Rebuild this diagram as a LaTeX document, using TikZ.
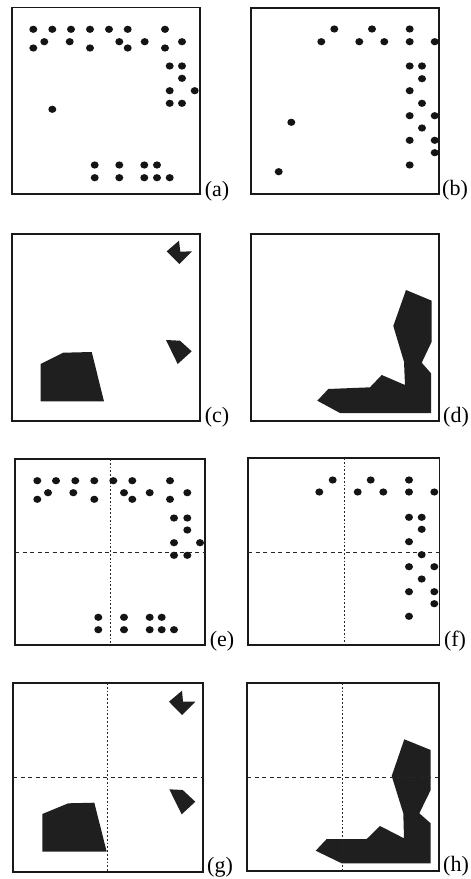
\documentclass[tikz,border=0pt]{standalone}
\usepackage{fontspec}
\setmainfont{Liberation Serif}
\begin{document}
\begin{tikzpicture}[x=1pt,y=-1pt,
  panel/.style={draw=black!90,line width=1.3pt},
  blob/.style={fill=black!88},
  hcut/.style={draw=black!85,line width=0.9pt,dash pattern=on 4pt off 3.5pt},
  vcut/.style={draw=black!85,line width=0.9pt,dash pattern=on 1.8pt off 2pt},
  tag/.style={font=\fontsize{22}{25}\selectfont,inner sep=0pt}]
\useasboundingbox (0,0) rectangle (471,879);
\fill[white] (0,0) rectangle (471,879);

% a spot of the point set
\newcommand\spot[2]{\fill[black!92] (#1,#2) ellipse [x radius=4pt,y radius=3.6pt];}

% ---------- (a) point set ----------
\draw[panel] (12,7.5) rectangle (200,194);
\foreach \p/\q in {33.3/29.3,52.3/29.3,71/29.3,90/29.3,109/29.3,127.7/29.3,165/29.3,
  44.3/41.7,69.7/41.7,119.3/41.7,144.7/41.7,182/41.7,
  33.3/48,90/48,127.7/48,165/48,
  169.7/66,182/66,182/78.3,169.7/90.7,194.7/90.7,169.7/103.3,182/103.3,
  52.3/109.3,
  94.7/165,119.3/165,144.3/165,157/165,
  94.7/177.7,119.3/177.7,144.3/177.7,157/177.7,169.7/177.7}{\spot{\p}{\q}}
\node[tag] (la) at (217,191) {(a)};

% ---------- (b) point set ----------
\draw[panel] (251,8) rectangle (439,194);
\foreach \p/\q in {334.3/29,372/29,409.7/29,
  321.3/41.7,359.3/41.7,384.3/41.7,409.7/41.7,434.7/41.7,
  409.7/66,422/66,422/78.7,409.7/90.7,422/103.3,409.7/115.7,434.7/115.7,
  291.3/122.3,422/128,409.7/140.3,434.7/140.3,434.7/152.7,409.7/165,278.7/171.7}{\spot{\p}{\q}}
\node[tag] (lb) at (455,190) {(b)};

% ---------- (c) regions ----------
\draw[panel] (12,234) rectangle (200,421);
\fill[blob] (40.7,364) -- (63.3,352.7) -- (91.7,352) -- (104,401.3) -- (40.7,401.3) -- cycle;
\fill[blob] (166.7,251.3) -- (179,240.7) -- (180.3,251.7) -- (192,251.3) -- (179.3,264) -- cycle;
\fill[blob] (166,340) -- (180,340.7) -- (191.7,351.3) -- (177.7,364) -- cycle;
\node[tag] (lc) at (217,417) {(c)};

% ---------- (d) region ----------
\draw[panel] (251,234) rectangle (439,421);
\fill[blob] (406,290) -- (431.7,300.7) -- (431.7,341.7) -- (421.7,362.7) -- (431,373.3)
  -- (431,413) -- (340,413) -- (317.3,400.7) -- (328.3,389) -- (370,387.3)
  -- (381.7,375) -- (405,385) -- (404,361.7) -- (393.3,326) -- cycle;
\node[tag] (ld) at (456,417) {(d)};

% ---------- (e) point set, split in quarters ----------
\draw[panel] (15,459) rectangle (205,645);
\draw[vcut] (110,459) -- (110,645);
\draw[hcut] (15,552.3) -- (205,552.3);
\foreach \p/\q in {37.3/480.7,56/480.7,75.3/480.7,94.3/480.7,113.3/480.7,132.3/480.7,170/480.7,
  48/492.7,73.3/492.7,124/492.7,149.7/492.7,187.3/492.7,
  37.3/499.3,94.3/499.3,132.3/499.3,170/499.3,
  174/518,187.3/518,187.3/530,174/542.7,200/542.7,174/555.3,187.3/555.3,
  98.3/617.3,124/617.3,149.7/617.3,161.7/617.3,
  98.3/629.7,124/629.7,149.7/629.7,161.7/629.7,174/629.7}{\spot{\p}{\q}}
\node[tag] (le) at (222,641) {(e)};

% ---------- (f) point set, split in quarters ----------
\draw[panel] (248,458) rectangle (439.5,645);
\draw[vcut] (344.3,458) -- (344.3,645);
\draw[hcut] (248,552.3) -- (439.5,552.3);
\foreach \p/\q in {332.7/480,370.7/480,409/480,
  319.3/492,357.7/492,383.3/492,409/492,434.3/492,
  409/517.3,421.7/517.3,421.7/529.3,409/541.7,421.7/554.7,409/566.7,434.3/566.7,
  421.7/579,409/591.7,434.3/591.7,434.3/603.7,409/616.3}{\spot{\p}{\q}}
\node[tag] (lf) at (455,641) {(f)};

% ---------- (g) regions, split in quarters ----------
\draw[panel] (13,683) rectangle (203,872);
\fill[blob] (42.3,814) -- (68.3,803.3) -- (94.3,802.7) -- (106.7,851.7) -- (42.3,851.7) -- cycle;
\fill[blob] (169,701.7) -- (182,690.7) -- (183,701.7) -- (195.3,701.7) -- (182,715) -- cycle;
\fill[blob] (169.3,789.3) -- (182.7,790) -- (195.3,801.7) -- (181.7,814.3) -- cycle;
\draw[vcut] (107.7,683) -- (107.7,872);
\draw[hcut] (13,777.7) -- (203,777.7);
\node[tag] (lg) at (220,867) {(g)};

% ---------- (h) region, split in quarters ----------
\draw[panel] (247,683) rectangle (439,871);
\fill[blob] (404.3,739.3) -- (430.7,750) -- (430.7,790) -- (419.3,813.3) -- (430.7,823.3)
  -- (430.7,863.3) -- (341.7,863.3) -- (315.7,850.7) -- (326.7,839) -- (366.7,839)
  -- (380,826) -- (404,838.3) -- (403.3,813.3) -- (391.7,776) -- cycle;
\draw[vcut] (342.3,683) -- (342.3,871);
\draw[hcut] (247,777.7) -- (439,777.7);
\node[tag] (lh) at (456,866) {(h)};
\end{tikzpicture}
\end{document}
